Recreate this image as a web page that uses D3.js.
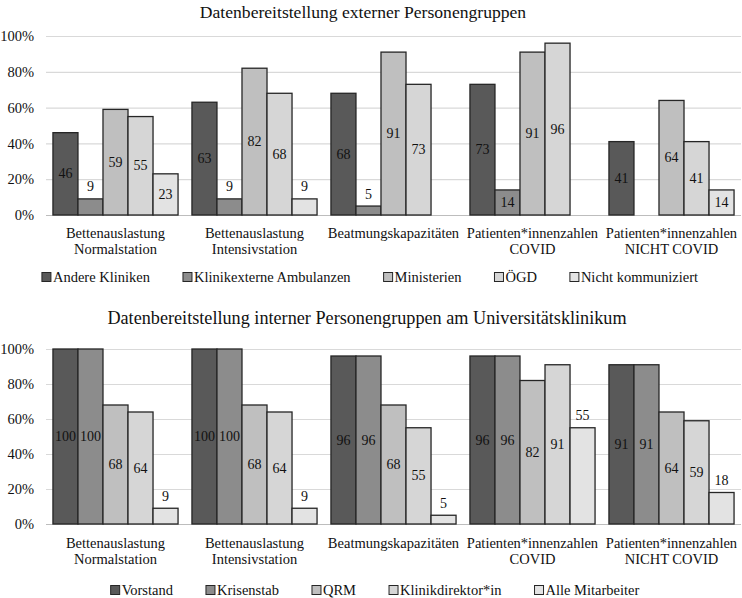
<!DOCTYPE html>
<html><head><meta charset="utf-8">
<script src="https://cdn.jsdelivr.net/npm/d3@7"></script>
<style>body{margin:0;background:#fff}</style>
</head><body>
<svg id="c" width="742" height="598"></svg>
<script>
const categories = [
  ["Bettenauslastung","Normalstation"],
  ["Bettenauslastung","Intensivstation"],
  ["Beatmungskapazitäten"],
  ["Patienten*innenzahlen","COVID"],
  ["Patienten*innenzahlen","NICHT COVID"]
];
const yTicks = [0, 20, 40, 60, 80, 100];

const titleTop = "Datenbereitstellung externer Personengruppen";
const seriesTop = ["Andere Kliniken","Klinikexterne Ambulanzen","Ministerien","ÖGD","Nicht kommuniziert"];
const andereKliniken = [46, 63, 68, 73, 41];
const klinikexterneAmbulanzen = [9, 9, 5, 14, 0];
const ministerien = [59, 82, 91, 91, 64];
const oegd = [55, 68, 73, 96, 41];
const nichtKommuniziert = [23, 9, 0, 0, 14];

const titleBottom = "Datenbereitstellung interner Personengruppen am Universitätsklinikum";
const seriesBottom = ["Vorstand","Krisenstab","QRM","Klinikdirektor*in","Alle Mitarbeiter"];
const vorstand = [100, 100, 96, 96, 91];
const krisenstab = [100, 100, 96, 96, 91];
const qrm = [68, 68, 68, 82, 64];
const klinikdirektor = [64, 64, 55, 91, 59];
const alleMitarbeiter = [9, 9, 5, 55, 18];

const colors = ["#595959","#8c8c8c","#bfbfbf","#d6d6d6","#e3e3e3"];
const FONT = "'Liberation Serif'";
const svg = d3.select("#c");

function txt(sel){ return sel.append("text").attr("font-family", FONT).attr("fill","#111"); }

function drawChart(cfg){
  const g = svg.append("g");
  const catKeys = categories.map((c,i)=>i);
  const x = d3.scaleBand().domain(catKeys).range([46, 741]).paddingInner(0.1).paddingOuter(0.05);
  const xs = d3.scaleBand().domain(d3.range(cfg.names.length)).range([0, x.bandwidth()]);
  const y = d3.scaleLinear().domain([0, 100]).range([cfg.y0, cfg.y1]);

  txt(g).attr("x", cfg.titleX).attr("y", cfg.titleY).attr("text-anchor","middle")
    .attr("dominant-baseline","central").attr("font-size", cfg.titleSize).text(cfg.title);

  const yAxis = d3.axisLeft(y).tickValues(yTicks).tickFormat(d=>d+"%").tickSize(-(741-46)).tickPadding(12);
  const ax = g.append("g").attr("transform","translate(46,0)").call(yAxis).attr("font-family", FONT);
  ax.select(".domain").remove();
  ax.selectAll(".tick line").attr("stroke", d=> d===0 ? "#bdbdbd" : "#d9d9d9").attr("stroke-width",1.2);
  ax.selectAll(".tick text").attr("font-size", 14.5).attr("fill","#111").attr("font-family", FONT);

  cfg.series.forEach((vals, si) => {
    vals.forEach((v, ci) => {
      if (!v) return;
      const bx = x(ci) + xs(si), bw = xs.bandwidth();
      g.append("rect").attr("x", bx).attr("y", y(v)).attr("width", bw).attr("height", y(0)-y(v))
        .attr("fill", colors[si]).attr("stroke","#262626").attr("stroke-width",1.3);
      const h = y(0)-y(v);
      const outside = cfg.outsideSeries.includes(si) || h < 20;
      const ly = outside ? y(v) - 12 : (y(v)+y(0))/2;
      txt(g).attr("x", bx+bw/2).attr("y", ly).attr("text-anchor","middle")
        .attr("dominant-baseline","central").attr("font-size",14).text(v);
    });
  });

  categories.forEach((lines, ci) => {
    lines.forEach((ln, li) => {
      txt(g).attr("x", x(ci)+x.bandwidth()/2).attr("y", cfg.y0 + cfg.lab1 + li*16)
        .attr("text-anchor","middle").attr("dominant-baseline","central")
        .attr("font-size",14.5).text(ln);
    });
  });

  const lg = g.append("g");
  let cx = 0;
  cfg.names.forEach((n, si) => {
    const it = lg.append("g");
    it.append("rect").attr("x", 0).attr("y", -4.5).attr("width", 9).attr("height", 9)
      .attr("fill", colors[si]).attr("stroke","#262626").attr("stroke-width",1);
    const t = txt(it).attr("x", 11).attr("y", 0).attr("dominant-baseline","central")
      .attr("font-size",14.5).text(n);
    const w = 11 + t.node().getComputedTextLength();
    it.attr("transform", `translate(${cx},${cfg.legY})`);
    cx += w + cfg.legGap;
  });
  const total = cx - cfg.legGap;
  lg.attr("transform", `translate(${cfg.legCenter - total/2},0)`);
}

drawChart({title:titleTop, titleX:363, titleY:12, titleSize:17.6, y0:215, y1:36, lab1:18, legY:277, legCenter:370, legGap:33,
  names: seriesTop, series:[andereKliniken, klinikexterneAmbulanzen, ministerien, oegd, nichtKommuniziert], outsideSeries:[]});
drawChart({title:titleBottom, titleX:367, titleY:318, titleSize:18.2, y0:524, y1:349, lab1:19, legY:590, legCenter:375, legGap:33,
  names: seriesBottom, series:[vorstand, krisenstab, qrm, klinikdirektor, alleMitarbeiter], outsideSeries:[4]});
</script>
</body></html>
